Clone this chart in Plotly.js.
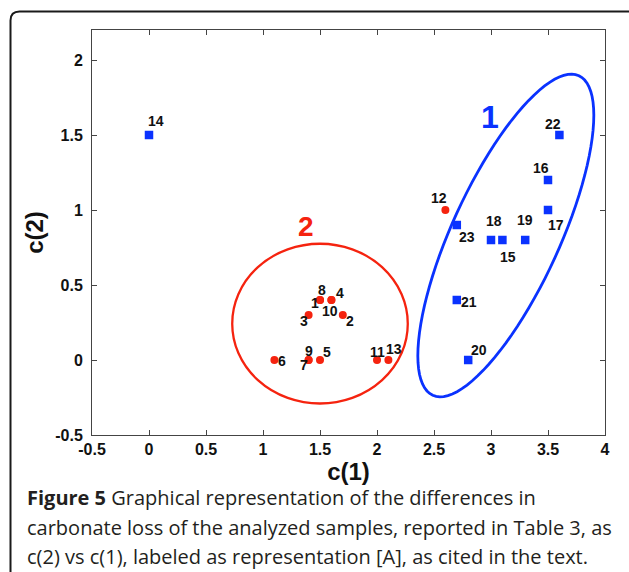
<!DOCTYPE html>
<html>
<head>
<meta charset="utf-8">
<script src="https://cdn.plot.ly/plotly-3.0.1.min.js"></script>
<style>
  html, body { margin: 0; padding: 0; background: #ffffff; }
  #chart { width: 629px; height: 572px; }
</style>
</head>
<body>
<div id="chart"></div>
<script>
// ---------- data ----------
const redIds  = ['1','2','3','4','5','6','7','8','9','10','11','12','13'];
const redX    = [1.5, 1.7, 1.4, 1.6, 1.5, 1.1, 1.4, 1.5, 1.4, 1.6, 2.0, 2.6, 2.1];
const redY    = [0.4, 0.3, 0.3, 0.4, 0.0, 0.0, 0.0, 0.4, 0.0, 0.4, 0.0, 1.0, 0.0];

const blueIds = ['14','15','16','17','18','19','20','21','22','23'];
const blueX   = [0.0, 3.1, 3.5, 3.5, 3.0, 3.3, 2.8, 2.7, 3.6, 2.7];
const blueY   = [1.5, 0.8, 1.2, 1.0, 0.8, 0.8, 0.0, 0.4, 1.5, 0.9];

const tickVals   = [-0.5, 0, 0.5, 1, 1.5, 2, 2.5, 3, 3.5, 4];
const xTickText  = ['-0.5','0','0.5','1','1.5','2','2.5','3','3.5','4'];
const yTickVals  = [-0.5, 0, 0.5, 1, 1.5, 2];
const yTickText  = ['-0.5','0','0.5','1','1.5','2'];

const groupNames = ['2', '1'];
const groupX     = [1.38, 2.99];
const groupY     = [0.89, 1.62];

const captionLines = [
  '<b>Figure 5</b> Graphical representation of the differences in',
  'carbonate loss of the analyzed samples, reported in Table 3, as',
  'c(2) vs c(1), labeled as representation [A], as cited in the text.'
];

// ---------- styles / label offsets (pixels) ----------
const redShift  = { // [xshift, yshift]
  '1':[-5,-3], '2':[7,-6], '3':[-5,-6], '4':[9,7], '5':[7,8], '6':[8,-1],
  '7':[-5,-5], '8':[2,10], '9':[0,9], '10':[-1,-11], '11':[0,8], '12':[-6,12], '13':[6,11]
};
const blueShift = {
  '14':[7,14], '15':[6,-17], '16':[-7,12], '17':[8,-15], '18':[3,19],
  '19':[0,20], '20':[11,10], '21':[12,-2], '22':[-6,11], '23':[10,-12]
};
const RED = '#f5230f', BLUE = '#0a32ff';

const M = {l: 92, r: 24, t: 30, b: 137};
const W = 629 - M.l - M.r, H = 572 - M.t - M.b;
const pxX = p => (p - M.l) / W;
const pxY = p => (M.t + H - p) / H;

// ---------- traces ----------
const traces = [
  { type: 'scatter', mode: 'markers', x: redX, y: redY, name: 'group 2',
    marker: { symbol: 'circle', size: 8, color: RED }, hoverinfo: 'x+y' },
  { type: 'scatter', mode: 'markers', x: blueX, y: blueY, name: 'group 1',
    marker: { symbol: 'square', size: 8.5, color: BLUE }, hoverinfo: 'x+y' }
];

// ---------- annotations ----------
const FAM = 'Arial, "Liberation Sans", Helvetica, sans-serif';
const labelFont = { family: FAM, size: 14, color: '#111', weight: 'bold' };
const annotations = [];
redIds.forEach((id, i) => annotations.push({
  x: redX[i], y: redY[i], xref: 'x', yref: 'y', text: '<b>' + id + '</b>', showarrow: false,
  xshift: redShift[id][0], yshift: redShift[id][1], font: labelFont
}));
blueIds.forEach((id, i) => annotations.push({
  x: blueX[i], y: blueY[i], xref: 'x', yref: 'y', text: '<b>' + id + '</b>', showarrow: false,
  xshift: blueShift[id][0], yshift: blueShift[id][1], font: labelFont
}));
annotations.push({ x: groupX[0], y: groupY[0], xref: 'x', yref: 'y', text: '<b>' + groupNames[0] + '</b>', showarrow: false,
  font: { family: FAM, size: 28, color: RED, weight: 'bold' } });
annotations.push({ x: groupX[1], y: groupY[1], xref: 'x', yref: 'y', text: '<b>' + groupNames[1] + '</b>', showarrow: false,
  font: { family: FAM, size: 32, color: BLUE, weight: 'bold' } });

const capY = [498, 527, 556];
captionLines.forEach((t, i) => annotations.push({
  xref: 'paper', yref: 'paper', x: pxX(25), y: pxY(capY[i]), xanchor: 'left', yanchor: 'middle',
  text: t, showarrow: false, align: 'left',
  font: { family: 'Open Sans, Noto Sans, sans-serif', size: 20, color: '#231f20' }
}));

// ---------- shapes ----------
// blue ellipse: centre, semi-axis vectors in data units
const eC = [3.13, 0.83], eA = [0.641, 1.065], eB = [0.430, -0.149];
let bp = '';
for (let k = 0; k <= 96; k++) {
  const t = 2 * Math.PI * k / 96;
  const x = eC[0] + Math.cos(t) * eA[0] + Math.sin(t) * eB[0];
  const y = eC[1] + Math.cos(t) * eA[1] + Math.sin(t) * eB[1];
  bp += (k === 0 ? 'M' : 'L') + x.toFixed(4) + ',' + y.toFixed(4);
}
bp += 'Z';

const fx0 = pxX(10.5), fy0 = pxY(572), fyTop = pxY(11.5), fxR = pxX(629), rad = 9;
const framePath = 'M' + fx0 + ',' + fy0 + ' L' + fx0 + ',' + pxY(11.5 + rad) +
  ' Q' + fx0 + ',' + fyTop + ' ' + pxX(10.5 + rad) + ',' + fyTop + ' L' + fxR + ',' + fyTop;

const shapes = [
  { type: 'circle', xref: 'x', yref: 'y', x0: 0.73, x1: 2.27, y0: -0.29, y1: 0.775,
    line: { color: RED, width: 2.3 }, layer: 'above' },
  { type: 'path', xref: 'x', yref: 'y', path: bp, line: { color: BLUE, width: 2.8 }, layer: 'above' },
  { type: 'path', xref: 'paper', yref: 'paper', path: framePath, line: { color: '#1a1a1a', width: 2 } }
];

const axisCommon = {
  showgrid: false, zeroline: false, showline: true, linecolor: '#444', linewidth: 1,
  mirror: 'ticks', ticks: 'inside', ticklen: 5, tickcolor: '#444', tickwidth: 1,
  tickmode: 'array', fixedrange: true,
  tickfont: { family: FAM, size: 16, color: '#111', weight: 'bold' },
};

const layout = {
  width: 629, height: 572,
  margin: M,
  paper_bgcolor: '#ffffff', plot_bgcolor: '#ffffff',
  showlegend: false,
  xaxis: Object.assign({}, axisCommon, {
    range: [-0.5, 4], tickvals: tickVals, ticktext: xTickText.map(s => '<b>' + s + '</b>'), ticklabelstandoff: 0,
    title: { text: '<b>c(1)</b>', standoff: 0,
      font: { family: FAM, size: 24, color: '#111', weight: 'bold' } }
  }),
  yaxis: Object.assign({}, axisCommon, {
    range: [-0.5, 2.2], tickvals: yTickVals, ticktext: yTickText.map(s => '<b>' + s + '</b>'), ticklabelstandoff: 5,
    title: { text: '<b>c(2)</b>', standoff: 4,
      font: { family: FAM, size: 24, color: '#111', weight: 'bold' } }
  }),
  annotations: annotations,
  shapes: shapes
};

Plotly.newPlot('chart', traces, layout, { displayModeBar: false, staticPlot: true });
</script>
</body>
</html>
